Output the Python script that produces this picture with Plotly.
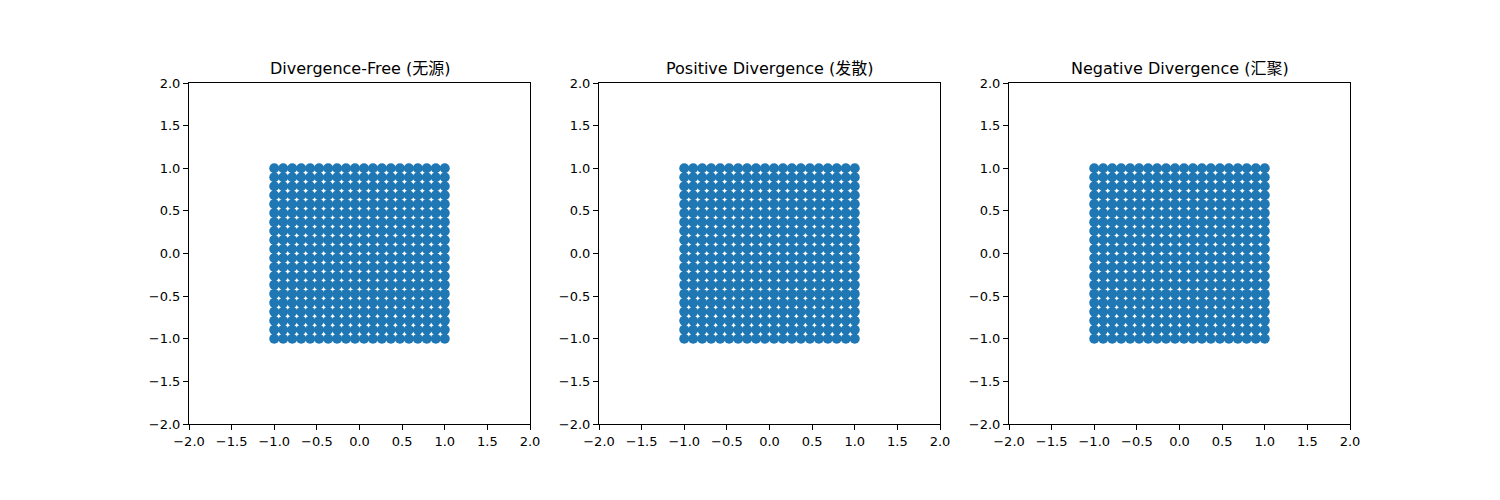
import plotly.graph_objects as go

titles = ["Divergence-Free (无源)", "Positive Divergence (发散)", "Negative Divergence (汇聚)"]
grid_vals = [-1.0, -0.895, -0.789, -0.684, -0.579, -0.474, -0.368, -0.263, -0.158, -0.053,
             0.053, 0.158, 0.263, 0.368, 0.474, 0.579, 0.684, 0.789, 0.895, 1.0]
tick_vals = [-2.0, -1.5, -1.0, -0.5, 0.0, 0.5, 1.0, 1.5, 2.0]
tick_text = ["−2.0", "−1.5", "−1.0", "−0.5", "0.0", "0.5", "1.0", "1.5", "2.0"]

xs = [x for y in grid_vals for x in grid_vals]
ys = [y for y in grid_vals for x in grid_vals]

W, H = 1500, 500
OFF = 7  # page body offset
ML, MR, MT, MB = 100, 100, 50, 50
PW, PH = W - ML - MR, H - MT - MB
px_left = [188 - OFF, 598 - OFF, 1008 - OFF]
px_right = [529 - OFF, 939 - OFF, 1349 - OFF]
px_top, px_bottom = 82 - OFF, 423 - OFF
x_domains = [[(l - ML) / PW, (r - ML) / PW] for l, r in zip(px_left, px_right)]
y_domain = [(H - MB - px_bottom) / PH, (H - MB - px_top) / PH]

fig = go.Figure()
font = dict(family="DejaVu Sans, Noto Sans CJK SC", size=13, color="black")
layout = dict(
    width=W, height=H, showlegend=False,
    margin=dict(l=ML, r=MR, t=MT, b=MB, autoexpand=False),
    paper_bgcolor="white", plot_bgcolor="white",
    font=font, annotations=[],
)
for i in range(3):
    sfx = "" if i == 0 else str(i + 1)
    fig.add_trace(go.Scatter(
        x=xs, y=ys, mode="markers",
        marker=dict(color="#1f77b4", size=10, line=dict(width=0)),
        xaxis="x" + sfx, yaxis="y" + sfx, hoverinfo="skip",
    ))
    ax = dict(range=[-2, 2], tickvals=tick_vals, ticktext=tick_text,
              showgrid=False, zeroline=False, showline=True, mirror=True,
              linecolor="black", linewidth=1, ticks="outside", ticklen=5,
              tickcolor="black", tickwidth=1, tickfont=font, automargin=False)
    layout["xaxis" + sfx] = dict(ax, domain=x_domains[i], anchor="y" + sfx)
    layout["yaxis" + sfx] = dict(ax, domain=y_domain, anchor="x" + sfx)
    layout["annotations"].append(dict(
        text=titles[i], x=sum(x_domains[i]) / 2, y=y_domain[1],
        xref="paper", yref="paper", xanchor="center", yanchor="bottom",
        yshift=3, showarrow=False,
        font=dict(family="DejaVu Sans, Noto Sans CJK SC", size=16, color="black"),
    ))
fig.update_layout(**layout)
fig.write_html("out.html")
